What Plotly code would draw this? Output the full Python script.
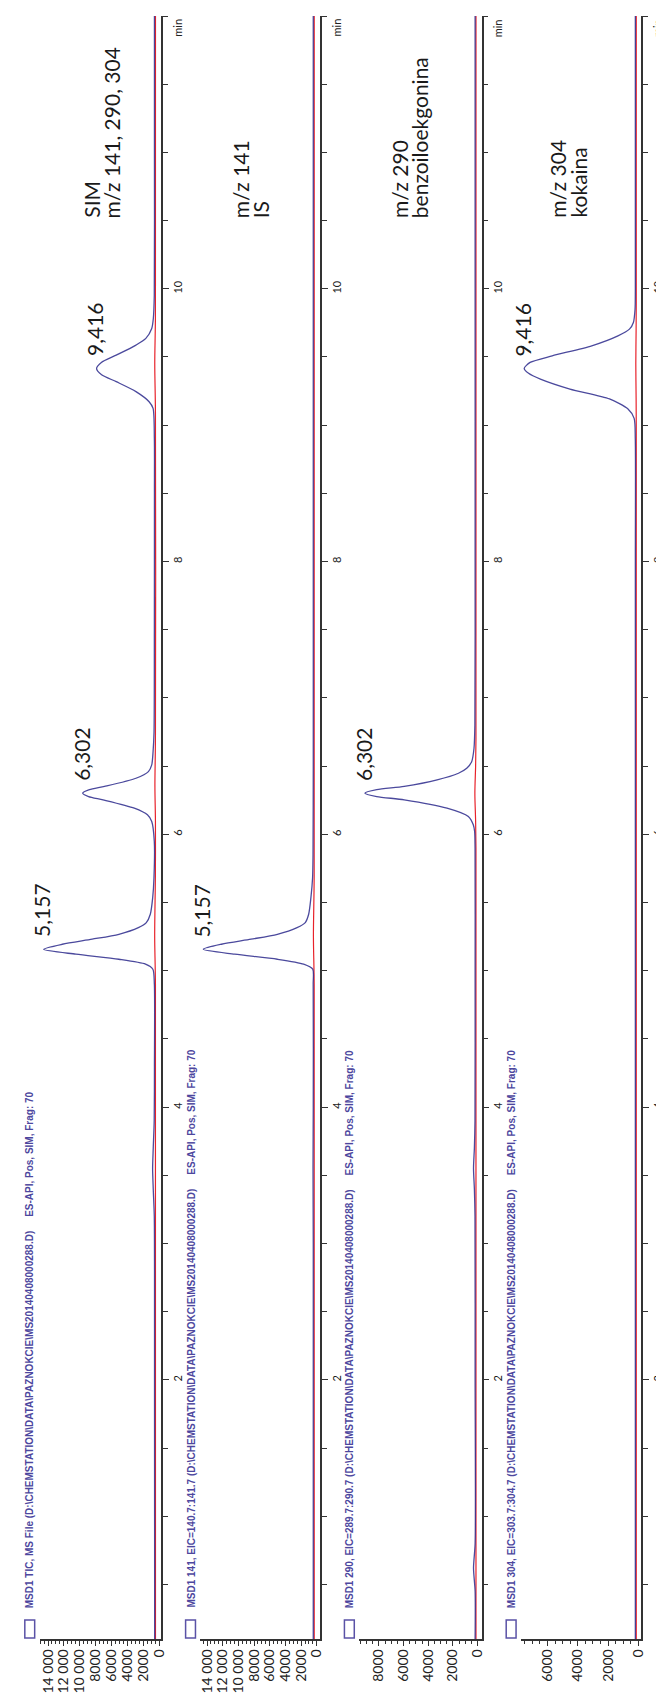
import plotly.graph_objects as go

# ------------------------------------------------------------------ data
# Panel 1: MSD1 TIC (SIM m/z 141, 290, 304)
time_tic = [0.1, 1.0, 2.0, 2.8, 3.2, 3.4, 3.55, 3.7, 3.9, 4.3, 4.9, 5.011, 5.048, 5.084,
            5.121, 5.157, 5.194, 5.231, 5.267, 5.316, 5.353, 5.414, 5.536, 5.68, 5.95,
            6.094, 6.143, 6.192, 6.253, 6.277, 6.302, 6.327, 6.351, 6.411, 6.46, 6.509,
            6.607, 6.75, 7.5, 8.5, 8.9, 9.123, 9.172, 9.246, 9.319, 9.37, 9.416, 9.46,
            9.513, 9.587, 9.636, 9.709, 9.782, 9.95, 11.0, 12.0]
int_tic = [600, 610, 620, 620, 650, 780, 860, 780, 660, 630, 640, 830, 1750, 5100,
           10500, 14550, 12200, 8450, 5100, 2650, 1650, 1150, 850, 690, 650,
           970, 1510, 3160, 7090, 8900, 9640, 8800, 6900, 2950, 1390, 970,
           800, 680, 640, 630, 640, 800, 1300, 2950, 5430, 7270, 7900, 7300,
           5430, 2950, 1710, 970, 770, 650, 630, 630]

# Panel 2: m/z 141 (IS)
time_141 = [0.1, 1.0, 2.0, 3.0, 3.55, 4.0, 4.9, 5.011, 5.048, 5.084, 5.121, 5.157, 5.194,
            5.231, 5.267, 5.316, 5.353, 5.414, 5.536, 5.68, 5.85, 6.5, 8.0, 10.0, 12.0]
int_141 = [450, 450, 450, 450, 480, 450, 460, 520, 1680, 5030, 10480, 14470, 12160,
           8390, 5030, 2520, 1470, 1040, 750, 540, 480, 450, 450, 450, 450]

# Panel 3: m/z 290 (benzoiloekgonina)
time_290 = [0.1, 0.45, 0.62, 0.8, 2.0, 3.2, 3.4, 3.55, 3.7, 3.9, 5.0, 5.9, 6.021, 6.07,
            6.131, 6.192, 6.253, 6.277, 6.302, 6.327, 6.351, 6.399, 6.448, 6.484, 6.533,
            6.631, 6.8, 8.0, 10.0, 12.0]
int_290 = [200, 200, 330, 200, 200, 210, 260, 330, 260, 210, 200, 205, 240, 350,
           750, 2480, 5950, 8180, 9140, 8180, 5950, 3280, 1550, 880, 480,
           290, 220, 200, 200, 200]

# Panel 4: m/z 304 (kokaina)
time_304 = [0.1, 2.0, 4.0, 6.0, 8.0, 8.9, 9.05, 9.12, 9.192, 9.265, 9.338, 9.38, 9.416,
            9.46, 9.508, 9.582, 9.655, 9.704, 9.753, 9.85, 10.0, 12.0]
int_304 = [200, 200, 200, 200, 200, 205, 280, 700, 1910, 4520, 6470, 7250, 7540,
           7150, 5690, 3080, 1350, 590, 330, 220, 200, 200]

# second (red) overlay traces
red_time_tic = [0.1, 4.9, 5.25, 5.7, 6.1, 6.35, 6.7, 9.1, 9.45, 9.8, 12.0]
red_int_tic = [500, 505, 600, 510, 505, 570, 505, 505, 590, 505, 500]
red_time_141 = [0.1, 4.9, 5.25, 5.7, 12.0]
red_int_141 = [330, 335, 430, 335, 330]
red_time_290 = [0.1, 5.9, 6.1, 6.3, 6.5, 6.7, 12.0]
red_int_290 = [130, 132, 160, 220, 160, 132, 130]
red_time_304 = [0.1, 9.0, 9.2, 9.45, 9.7, 9.9, 12.0]
red_int_304 = [140, 140, 150, 170, 150, 140, 140]

panel_titles = [
    "MSD1 TIC, MS File (D:\\CHEMSTATION\\DATA\\PAZNOKCIE\\MS20140408000288.D)",
    "MSD1 141, EIC=140.7:141.7 (D:\\CHEMSTATION\\DATA\\PAZNOKCIE\\MS20140408000288.D)",
    "MSD1 290, EIC=289.7:290.7 (D:\\CHEMSTATION\\DATA\\PAZNOKCIE\\MS20140408000288.D)",
    "MSD1 304, EIC=303.7:304.7 (D:\\CHEMSTATION\\DATA\\PAZNOKCIE\\MS20140408000288.D)",
]
method_text = "ES-API, Pos, SIM, Frag: 70"
panel_label_lines = [("SIM", "m/z 141, 290, 304"), ("m/z 141", "IS"),
                     ("m/z 290", "benzoiloekgonina"), ("m/z 304", "kokaina")]
peak_rts = [[5.157, 6.302, 9.416], [5.157], [6.302], [9.416]]
peak_texts = [["5,157", "6,302", "9,416"], ["5,157"], ["6,302"], ["9,416"]]

int_tickvals = [[0, 2000, 4000, 6000, 8000, 10000, 12000, 14000],
                [0, 2000, 4000, 6000, 8000, 10000, 12000, 14000],
                [0, 2000, 4000, 6000, 8000],
                [0, 2000, 4000, 6000]]
int_ticktext = [["0", "2000", "4000", "6000", "8000", "10 000", "12 000", "14 000"],
                ["0", "2000", "4000", "6000", "8000", "10 000", "12 000", "14 000"],
                ["0", "2000", "4000", "6000", "8000"],
                ["0", "2000", "4000", "6000"]]
time_tickvals = [2, 4, 6, 8, 10]
time_ticktext = ["2", "4", "6", "8", "10"]

signals = [(time_tic, int_tic), (time_141, int_141), (time_290, int_290), (time_304, int_304)]
reds = [(red_time_tic, red_int_tic), (red_time_141, red_int_141),
        (red_time_290, red_int_290), (red_time_304, red_int_304)]

# ------------------------------------------------------------------ layout geometry
W, H = 664, 1694
TOP, BOT = 8, 1631
panel_left_px = [29, 192, 353, 517]
panel_axis_px = [152, 313, 477, 639]
int_ranges = [[15056, -186], [14843, -377], [9600, -320], [7752, -195]]
time_range = [0.1, 12.0]

NAVY = "#2c2a8c"
RED = "#e8232b"
TITLE_C = "#4d479e"
AXIS_C = "#333333"
LABEL_FONT = "Lato"


def pxx(px):
    return px / W


def pxy(py):
    return (BOT - py) / (BOT - TOP)


fig = go.Figure()
annotations = []
shapes = []
layout_axes = {}

for i in range(4):
    n = "" if i == 0 else str(i + 1)
    xa, ya = "x" + n, "y" + n
    rt, ri = reds[i]
    st, si = signals[i]
    fig.add_trace(go.Scatter(x=ri, y=rt, mode="lines", xaxis=xa, yaxis=ya,
                             line=dict(color=RED, width=1.2, shape="spline", smoothing=0.8),
                             hoverinfo="skip", showlegend=False))
    fig.add_trace(go.Scatter(x=si, y=st, mode="lines", xaxis=xa, yaxis=ya,
                             line=dict(color=NAVY, width=1.3, shape="spline", smoothing=0.7),
                             opacity=0.85, hoverinfo="skip", showlegend=False))

    layout_axes["xaxis" + n] = dict(
        domain=[pxx(panel_left_px[i]), pxx(panel_axis_px[i])],
        range=int_ranges[i], anchor=ya, showgrid=False, zeroline=False,
        showline=True, linecolor=AXIS_C, linewidth=1.5, mirror=False,
        ticks="outside", ticklen=5, tickwidth=1, tickcolor=AXIS_C,
        tickvals=int_tickvals[i], ticktext=int_ticktext[i], tickangle=-90,
        ticklabelstandoff=-2,
        tickfont=dict(family=LABEL_FONT, size=14, color="#222222"),
        minor=dict(dtick=500, ticks="outside", ticklen=3, tickcolor=AXIS_C, tickwidth=1),
    )
    layout_axes["yaxis" + n] = dict(
        domain=[0, 1], range=time_range, anchor=xa, side="right",
        showgrid=False, zeroline=False, showline=True, linecolor=AXIS_C, linewidth=1.5,
        ticks="outside", ticklen=6, tickwidth=1, tickcolor=AXIS_C,
        tickvals=time_tickvals, ticktext=time_ticktext, tickangle=-90,
        tickfont=dict(family=LABEL_FONT, size=11, color="#222222"),
        minor=dict(dtick=0.5, ticks="outside", ticklen=5, tickcolor=AXIS_C, tickwidth=1),
    )

    # peak labels, anchored at the apex of each peak
    for rt_, txt in zip(peak_rts[i], peak_texts[i]):
        k = min(range(len(st)), key=lambda j: abs(st[j] - rt_))
        annotations.append(dict(x=si[k], y=rt_, xref=xa, yref=ya, text=txt, showarrow=False,
                                textangle=-90, xanchor="center", yanchor="bottom",
                                yshift=10, xshift=-2,
                                font=dict(family=LABEL_FONT, size=21, color="#1a1a1a")))

    # compound labels (two lines)
    line1, line2 = panel_label_lines[i]
    right_px = panel_axis_px[i] - [35, 45, 48, 50][i]
    annotations.append(dict(x=pxx(right_px - 21), y=pxy(212), xref="paper", yref="paper",
                            text=line1, showarrow=False, textangle=-90,
                            xanchor="right", yanchor="bottom",
                            font=dict(family=LABEL_FONT, size=21, color="#1a1a1a")))
    annotations.append(dict(x=pxx(right_px), y=pxy(212), xref="paper", yref="paper",
                            text=line2, showarrow=False, textangle=-90,
                            xanchor="right", yanchor="bottom",
                            font=dict(family=LABEL_FONT, size=21, color="#1a1a1a")))

    # "min" axis title
    annotations.append(dict(x=pxx(panel_axis_px[i] + 16), y=pxy(TOP + 1), xref="paper",
                            yref="paper", text="min", showarrow=False, textangle=-90,
                            xanchor="center", yanchor="top",
                            font=dict(family=LABEL_FONT, size=11, color="#222222")))

    # data-file title with legend box
    title_x = panel_left_px[i] - 10
    annotations.append(dict(x=pxx(title_x), y=pxy(1602), xref="paper", yref="paper",
                            text="<b>" + panel_titles[i] + "\u00a0\u00a0\u00a0\u00a0\u00a0"
                                 + method_text + "</b>",
                            showarrow=False, textangle=-90, xanchor="center", yanchor="bottom",
                            font=dict(family="Liberation Sans", size=10, color=TITLE_C)))
    shapes.append(dict(type="rect", xref="paper", yref="paper",
                       x0=pxx(title_x - 5), x1=pxx(title_x + 5),
                       y0=pxy(1630), y1=pxy(1612),
                       line=dict(color="#5a52a6", width=1.5), fillcolor="white"))

fig.update_layout(
    width=W, height=H, autosize=False,
    margin=dict(l=0, r=0, t=TOP, b=H - BOT),
    paper_bgcolor="white", plot_bgcolor="white",
    showlegend=False, annotations=annotations, shapes=shapes,
    **layout_axes,
)

fig.write_html("out.html")
